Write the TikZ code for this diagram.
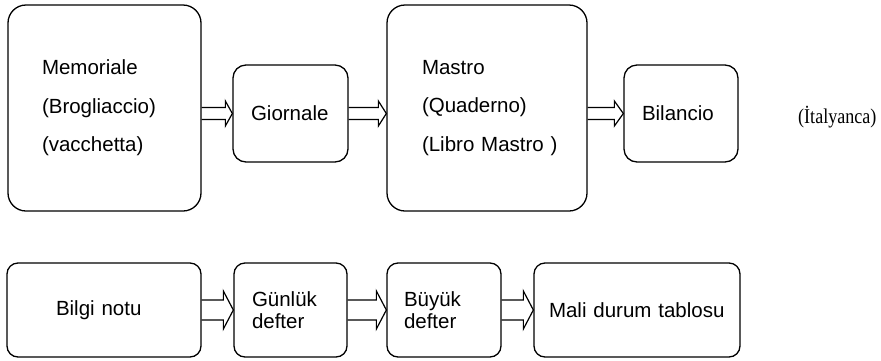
\documentclass[tikz,border=0pt]{standalone}
\usepackage{graphicx}
\usepackage{fontspec}
\setmainfont{Liberation Sans}
\newfontfamily\romanfont{Liberation Serif}
\usetikzlibrary{calc}

\begin{document}
\begin{tikzpicture}[
  x=1pt, y=-1pt,
  box/.style = {draw, line width=1.3pt, rounded corners=#1, align=left, inner xsep=0pt, inner ysep=0pt},
  box/.default = 11pt,
  tall/.style = {font=\fontsize{20.5}{38.5}\selectfont},
  short/.style = {font=\fontsize{20.5}{22.5}\selectfont},
  fat arrow/.style n args = {3}{line width=1.2pt, to path={
      ([yshift=#1]\tikztostart) -- ([xshift=-#3,yshift=#1]\tikztotarget)
      -- ([xshift=-#3,yshift=#2]\tikztotarget) -- (\tikztotarget)
      -- ([xshift=-#3,yshift=-#2]\tikztotarget) -- ([xshift=-#3,yshift=-#1]\tikztotarget)
      -- ([yshift=-#1]\tikztostart)}}
  ]
	\useasboundingbox (0,0) rectangle (881,360);

	% upper row (Italian names)
	\node[box=18pt, tall, minimum width=193pt, minimum height=206pt, text width=125pt] (mem) at (104.5,108) {Memoriale\\(Brogliaccio)\\(vacchetta)};
	\node[box=13pt, tall, minimum width=115pt, minimum height=97pt, text width=79pt] (gio) at (290.5,113.5) {Giornale};
	\node[box=18pt, tall, minimum width=200pt, minimum height=206pt, text width=130pt] (mas) at (487,108) {Mastro\\(Quaderno)\\\mbox{(Libro Mastro )}};
	\node[box=13pt, tall, minimum width=114pt, minimum height=97pt, text width=78pt] (bil) at (681,113.5) {Bilancio};
	\node[font=\romanfont\fontsize{21}{25}\selectfont, anchor=base west, inner sep=0pt] (ita) at (798,123) {\scalebox{0.86}[1]{(İtalyanca)}};

	\draw[fat arrow={6}{12.5}{7}] (mem.east |- gio.west) to (gio.west);
	\draw[fat arrow={6}{12.5}{8}] (gio.east) to (mas.west |- gio.east);
	\draw[fat arrow={6}{12.5}{9}] (mas.east |- bil.west) to (bil.west);

	% lower row (Turkish names)
	\node[box, short, minimum width=194pt, minimum height=94pt, text width=96pt] (not) at (104,310) {Bilgi notu};
	\node[box, short, minimum width=113pt, minimum height=94pt, text width=77pt] (gun) at (290.5,310) {Günlük\\defter};
	\node[box, short, minimum width=114pt, minimum height=94pt, text width=80pt] (buy) at (444,310) {Büyük\\defter};
	\node[box, short, minimum width=206pt, minimum height=94pt, text width=176pt] (mal) at (637,310) {Mali durum tablosu};

	\draw[fat arrow={10}{19}{10}] (not.east) to (gun.west);
	\draw[fat arrow={10}{19}{10}] (gun.east) to (buy.west);
	\draw[fat arrow={10}{19}{10}] (buy.east) to (mal.west);

\end{tikzpicture}
\end{document}
